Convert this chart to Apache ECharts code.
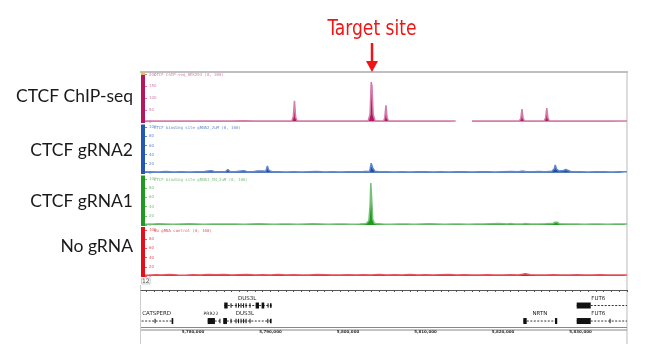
<!DOCTYPE html>
<html><head><meta charset="utf-8">
<script src="https://cdn.jsdelivr.net/npm/echarts@6/dist/echarts.min.js"></script>
<style>html,body{margin:0;padding:0;background:#fff}#c{width:650px;height:357px}</style>
</head><body><div id="c"></div>
<script>
// ---- data (genomic position in kb, signal value) ----
const trackNames = ['CTCF ChIP-seq', 'CTCF gRNA2', 'CTCF gRNA1', 'No gRNA'];
const trackHeaders = ['CTCF ChIP-seq_HEK293 (0, 200)', 'CTCF binding site gRNA2_2uM (0, 100)', 'CTCF binding site gRNA1_IN_2uM (0, 100)', 'No gRNA control (0, 100)'];
const trackMax = [200, 100, 100, 100];
const trackInterval = [50, 20, 20, 20];

const chipSeq = [[5773.3,2],[5775.0,2.5],[5777.0,2],[5779.0,2],[5781.0,2.5],[5783.0,2],[5785.0,2],[5786.5,3],[5788.0,2],[5790.0,2],[5792.0,2],[5792.75,2],[5792.95,20],[5793.1,88],[5793.25,18],[5793.45,2],[5795.0,2],[5797.0,2],[5799.0,2],[5800.9,2],[5801.0,5],[5801.15,2],[5802.6,2],[5802.85,30],[5803.0,168],[5803.1,150],[5803.25,30],[5803.5,3],[5804.6,2],[5804.75,15],[5804.9,69],[5805.05,15],[5805.25,2],[5807.0,2],[5809.0,2],[5811.0,2],[5813.0,2],[5813.9,2],[5814.0,null],[5815.9,null],[5816.0,2],[5818.0,2],[5820.0,2],[5822.1,2],[5822.3,12],[5822.45,53],[5822.6,12],[5822.8,2],[5825.3,2],[5825.5,14],[5825.65,57],[5825.8,14],[5826.0,2],[5828,2],[5830,2],[5832,2],[5834,2],[5836,2]];

const gRNA2 = [[5773.3,1.5],[5774.5,2],[5775.5,1.5],[5776.5,2.5],[5777.5,1.5],[5778.5,2],[5779.5,1.5],[5780.5,2],[5781.5,2.5],[5782.0,4],[5782.4,4.5],[5782.8,2],[5783.5,2],[5784.2,2],[5784.5,7],[5784.8,2],[5785.5,2],[5786.2,4],[5786.6,4.5],[5787.0,2],[5787.8,2],[5788.3,3.5],[5788.6,4],[5789.0,4],[5789.4,3],[5789.6,15],[5789.8,5],[5790.2,2],[5791,2],[5792,1.5],[5793,2],[5794,1.5],[5795,2],[5796,2.5],[5797,1.5],[5798,2],[5799,1.5],[5800,2],[5801,2],[5802,2.5],[5802.8,3],[5803.0,21],[5803.2,10],[5803.5,3],[5804.0,2],[5805,2],[5806,1.5],[5807,2],[5808,1.5],[5809,2],[5810,2],[5811,1.5],[5812,2],[5813,1.5],[5814,2],[5815,2],[5816,1.5],[5817,2],[5818,2],[5819,1.5],[5820,2],[5821,2.5],[5822,2],[5822.6,3.5],[5823,2],[5824,2],[5824.6,2.5],[5825.2,2],[5825.4,5],[5825.6,2],[5826.3,3],[5826.6,8],[5826.75,17],[5826.9,8],[5827.2,4],[5827.8,5],[5828.1,7],[5828.4,5],[5828.8,2],[5830,2],[5831,1.5],[5832,2],[5833,2],[5834,1.5],[5835,2],[5836,2]];

const gRNA1 = [[5773.3,2],[5774.5,1.5],[5775.5,2.5],[5776.5,2],[5777.5,1.5],[5778.5,2],[5779.5,2.5],[5780.5,2],[5781.5,1.5],[5782.5,2],[5783.5,2],[5784.3,2],[5784.5,3.5],[5784.7,2],[5785.5,2],[5786.5,1.5],[5787.5,2],[5788.5,2.5],[5789.5,2],[5790.5,1.5],[5791.5,2],[5792.5,2],[5793.5,1.5],[5794.5,2],[5795.5,2.5],[5796.5,2],[5797.5,1.5],[5798.5,2],[5799.5,2],[5800.5,1.5],[5801.5,2],[5802.2,2.5],[5802.5,5],[5802.7,10],[5802.85,40],[5802.95,91],[5803.05,60],[5803.2,12],[5803.4,4],[5803.7,2.5],[5804.5,2],[5805.5,1.5],[5806.5,2],[5807.5,2],[5808.5,1.5],[5809.5,2],[5810.5,2.5],[5811.5,2],[5812.5,1.5],[5813.5,2],[5814.5,2],[5815.5,1.5],[5816.5,2],[5817.5,2],[5818.5,2.5],[5819.5,3],[5820.5,2],[5821.1,3],[5821.5,2],[5822.5,2],[5822.8,3],[5823.5,2],[5824.5,2],[5825.5,2.5],[5826.4,3],[5826.7,6],[5826.85,10],[5827.0,6],[5827.3,2.5],[5828.5,2],[5829.5,2],[5830.5,1.5],[5831.5,2],[5832.5,2],[5833.5,1.5],[5834.5,2],[5835.5,2],[5836,2]];

const noGRNA = [[5773.3,2],[5774.3,1.5],[5775.2,2.5],[5776.0,2],[5777.0,3],[5778.0,2],[5779.0,1.5],[5780.0,2.5],[5781.0,2],[5782.0,3],[5783.0,2.5],[5784.0,3],[5785.0,2],[5786.0,2.5],[5787.0,3],[5788.0,2],[5789.0,2.5],[5790.0,2],[5791.0,3],[5792.0,2],[5793.0,2.5],[5794.0,2],[5795.0,2],[5796.0,3],[5797.0,2.5],[5798.0,2],[5799.0,2],[5800.0,2.5],[5801.0,2],[5802.0,2.5],[5803.0,2],[5804.0,3],[5805.0,2],[5806.0,2.5],[5807.0,2],[5808.0,3],[5809.0,2],[5810.0,2.5],[5811.0,2],[5812.0,2.5],[5813.0,3],[5814.0,2],[5815.0,2.5],[5816.0,2],[5817.0,2],[5818.0,2.5],[5819.0,2],[5820.0,2],[5821.0,2.5],[5822.0,2],[5822.9,5],[5823.5,2.5],[5824.5,2],[5825.5,2],[5826.5,2.5],[5827.5,2],[5828.5,2],[5829.5,2.5],[5830.5,2],[5831.5,2],[5832.5,2.5],[5833.5,2],[5834.5,2],[5835.5,2],[5836,2]];

// genes: [start kb, end kb, row]
const geneLines = [[5784.04,5790.15,1],[5773.38,5777.46,2],[5781.9,5783.5,2],[5783.91,5790.15,2],[5822.62,5827.0,2],[5829.51,5836.0,1],[5829.51,5836.0,2]];
// exons: [start kb, end kb, row, thick(1)/thin(0)]
const geneExons = [
 [5784.04,5784.48,1,1],[5784.85,5784.98,1,0],[5785.5,5785.62,1,0],[5785.82,5785.94,1,0],[5786.14,5786.26,1,0],[5786.47,5786.59,1,0],[5786.79,5786.91,1,0],[5787.3,5787.42,1,0],[5788.09,5788.52,1,1],[5788.86,5789.2,1,1],[5789.63,5789.75,1,0],[5789.94,5790.15,1,0],
 [5775.05,5775.17,2,0],[5777.25,5777.46,2,1],
 [5781.9,5782.84,2,1],[5783.42,5783.54,2,0],
 [5783.91,5784.39,2,1],[5784.85,5784.98,2,0],[5785.5,5785.62,2,0],[5785.82,5785.94,2,0],[5786.14,5786.26,2,0],[5786.47,5786.59,2,0],[5786.79,5786.91,2,0],[5787.3,5787.42,2,0],[5789.6,5789.72,2,0],[5789.94,5790.15,2,0],
 [5822.62,5823.06,2,1],[5826.71,5827.0,2,1],
 [5829.51,5831.32,1,1],[5829.51,5831.32,2,1],[5833.75,5833.87,2,0]
];
// labels: [center kb, row, name]
const geneLabels = [[5787.0,1,'DUS3L'],[5775.32,2,'CATSPERD'],[5782.32,2,'PRR22'],[5786.71,2,'DUS3L'],[5824.77,2,'NRTN'],[5832.3,1,'FUT6'],[5832.3,2,'FUT6']];
const rulerTicks = [5780, 5790, 5800, 5810, 5820, 5830];
const viewStart = 5773.3, viewEnd = 5836.0;

// ---- styling ----
const fill = ['#b3175f', '#1f4fa3', '#1e9a1e', '#dc1a26'];
const lineC = ['#d47ba8', '#6188cc', '#78c078', '#e4545e'];
const barC = ['#b3175f', '#2457b0', '#1f9a1f', '#e3101c'];
const gridTop = [74.5, 127.3, 179, 230];
const gridH = [47, 45.4, 46, 46];
const seriesData = [chipSeq, gRNA2, gRNA1, noGRNA];
const minorTicks = [];
for (let k = 5774; k <= 5836; k++) minorTicks.push(k);

const grids = [], xAxes = [], yAxes = [], series = [], graphics = [];
for (let i = 0; i < 4; i++) {
  grids.push({left: 141, width: 486, top: gridTop[i], height: gridH[i]});
  xAxes.push({type: 'value', gridIndex: i, min: viewStart, max: viewEnd, show: false});
  yAxes.push({type: 'value', gridIndex: i, min: 0, max: trackMax[i], interval: trackInterval[i],
    axisLine: {show: false}, splitLine: {show: false},
    axisTick: {show: true, inside: true, length: 6, lineStyle: {color: lineC[i], width: 1}},
    axisLabel: {inside: true, margin: 8, fontSize: 4, color: lineC[i], fontFamily: 'DejaVu Sans'}});
  series.push({type: 'line', xAxisIndex: i, yAxisIndex: i, data: seriesData[i], showSymbol: false,
    connectNulls: false, animation: false, lineStyle: {color: lineC[i], width: 1.5},
    areaStyle: {color: fill[i], opacity: 1}, z: 3});
}
// gene track
grids.push({left: 141, width: 486, top: 290, height: 45});
xAxes.push({type: 'value', gridIndex: 4, min: viewStart, max: viewEnd, position: 'bottom',
  axisLine: {show: true, lineStyle: {color: '#555', width: 1}},
  axisTick: {show: true, customValues: minorTicks, length: 2, lineStyle: {color: '#555'}},
  axisLabel: {show: true, customValues: rulerTicks, inside: true, margin: 1, fontSize: 4, fontWeight: 'bold', color: '#333',
    fontFamily: 'DejaVu Sans', formatter: v => (v * 1000).toLocaleString('en-US')},
  splitLine: {show: false}});
yAxes.push({type: 'value', gridIndex: 4, min: 0, max: 2.9, inverse: true, show: false});

series.push({type: 'custom', xAxisIndex: 4, yAxisIndex: 4, animation: false, data: geneLines,
  renderItem: (p, api) => {
    const g = geneLines[p.dataIndex];
    const s = api.coord([g[0], g[2]]), e = api.coord([g[1], g[2]]);
    return {type: 'line', shape: {x1: s[0], y1: s[1], x2: e[0], y2: e[1]}, style: {stroke: '#333', lineWidth: 1, lineDash: [2, 1.5]}};
  }});
series.push({type: 'custom', xAxisIndex: 4, yAxisIndex: 4, animation: false, data: geneExons,
  renderItem: (p, api) => {
    const g = geneExons[p.dataIndex];
    const s = api.coord([g[0], g[2]]), e = api.coord([g[1], g[2]]);
    const h = g[3] ? 6 : 4.5;
    return {type: 'rect', shape: {x: s[0], y: s[1] - h / 2, width: Math.max(1, e[0] - s[0]), height: h}, style: {fill: '#111'}};
  }});
series.push({type: 'custom', xAxisIndex: 4, yAxisIndex: 4, animation: false, data: geneLabels.map(g => [g[0], g[1]]),
  renderItem: (p, api) => {
    const g = geneLabels[p.dataIndex];
    const c = api.coord([g[0], g[1]]);
    return {type: 'text', x: c[0], y: c[1] - 7, style: {text: g[2], fontSize: g[2] === 'PRR22' ? 4.5 : 5.5,
      fill: '#222', align: 'center', verticalAlign: 'middle', fontFamily: 'DejaVu Sans'}};
  }});

// ---- decorations ----
const labelY = [96, 150, 201, 246];
for (let i = 0; i < 4; i++) {
  graphics.push({type: 'text', x: 133, y: labelY[i], style: {text: trackNames[i], fontSize: 17.5, fill: '#1a1a1a',
    fontFamily: 'Lato, sans-serif', align: 'right', verticalAlign: 'middle'}});
  graphics.push({type: 'text', x: 154, y: gridTop[i] + 0.5, style: {text: trackHeaders[i], fontSize: 4, fill: lineC[i],
    fontFamily: 'DejaVu Sans Mono', verticalAlign: 'middle'}});
}
const barTop = [73, 124.5, 175.5, 227], barBot = [123, 174, 226, 277];
for (let i = 0; i < 4; i++) {
  graphics.push({type: 'rect', shape: {x: 141, y: barTop[i], width: 4, height: barBot[i] - barTop[i]}, style: {fill: barC[i]}, z: 10});
}
graphics.push({type: 'rect', shape: {x: 141, y: 72, width: 4, height: 3}, style: {fill: '#d8c070'}, z: 11});
graphics.push({type: 'line', shape: {x1: 140, y1: 72, x2: 628, y2: 72}, style: {stroke: '#aaa', lineWidth: 1.5}});
graphics.push({type: 'line', shape: {x1: 627, y1: 72, x2: 627, y2: 344}, style: {stroke: '#bbb', lineWidth: 1}});
graphics.push({type: 'line', shape: {x1: 140.5, y1: 285, x2: 140.5, y2: 344}, style: {stroke: '#ccc', lineWidth: 1}});
graphics.push({type: 'line', shape: {x1: 141, y1: 327.5, x2: 627, y2: 327.5}, style: {stroke: '#888', lineWidth: 1}});
graphics.push({type: 'line', shape: {x1: 141, y1: 330, x2: 627, y2: 330}, style: {stroke: '#888', lineWidth: 1}});
graphics.push({type: 'text', x: 141.5, y: 278, style: {text: '12', fontSize: 6, fill: '#444', fontFamily: 'DejaVu Sans',
  borderColor: '#999', borderWidth: 0.5, padding: [0, 0.5]}});
// target annotation
graphics.push({type: 'text', x: 372, y: 30, scaleX: 0.93, style: {text: 'Target site', fontSize: 20.5, fill: '#ee1515',
  fontFamily: "'Liberation Sans Narrow', 'DejaVu Sans Condensed', sans-serif", align: 'center', verticalAlign: 'middle'}});
graphics.push({type: 'line', shape: {x1: 372, y1: 43, x2: 372, y2: 64}, style: {stroke: '#ee1515', lineWidth: 2.5}});
graphics.push({type: 'polygon', shape: {points: [[366, 61], [378, 61], [372, 72]]}, style: {fill: '#ee1515'}});

const chart = echarts.init(document.getElementById('c'), null, {renderer: 'canvas'});
chart.setOption({animation: false, backgroundColor: '#fff', grid: grids, xAxis: xAxes, yAxis: yAxes, series: series, graphic: graphics});
</script></body></html>
